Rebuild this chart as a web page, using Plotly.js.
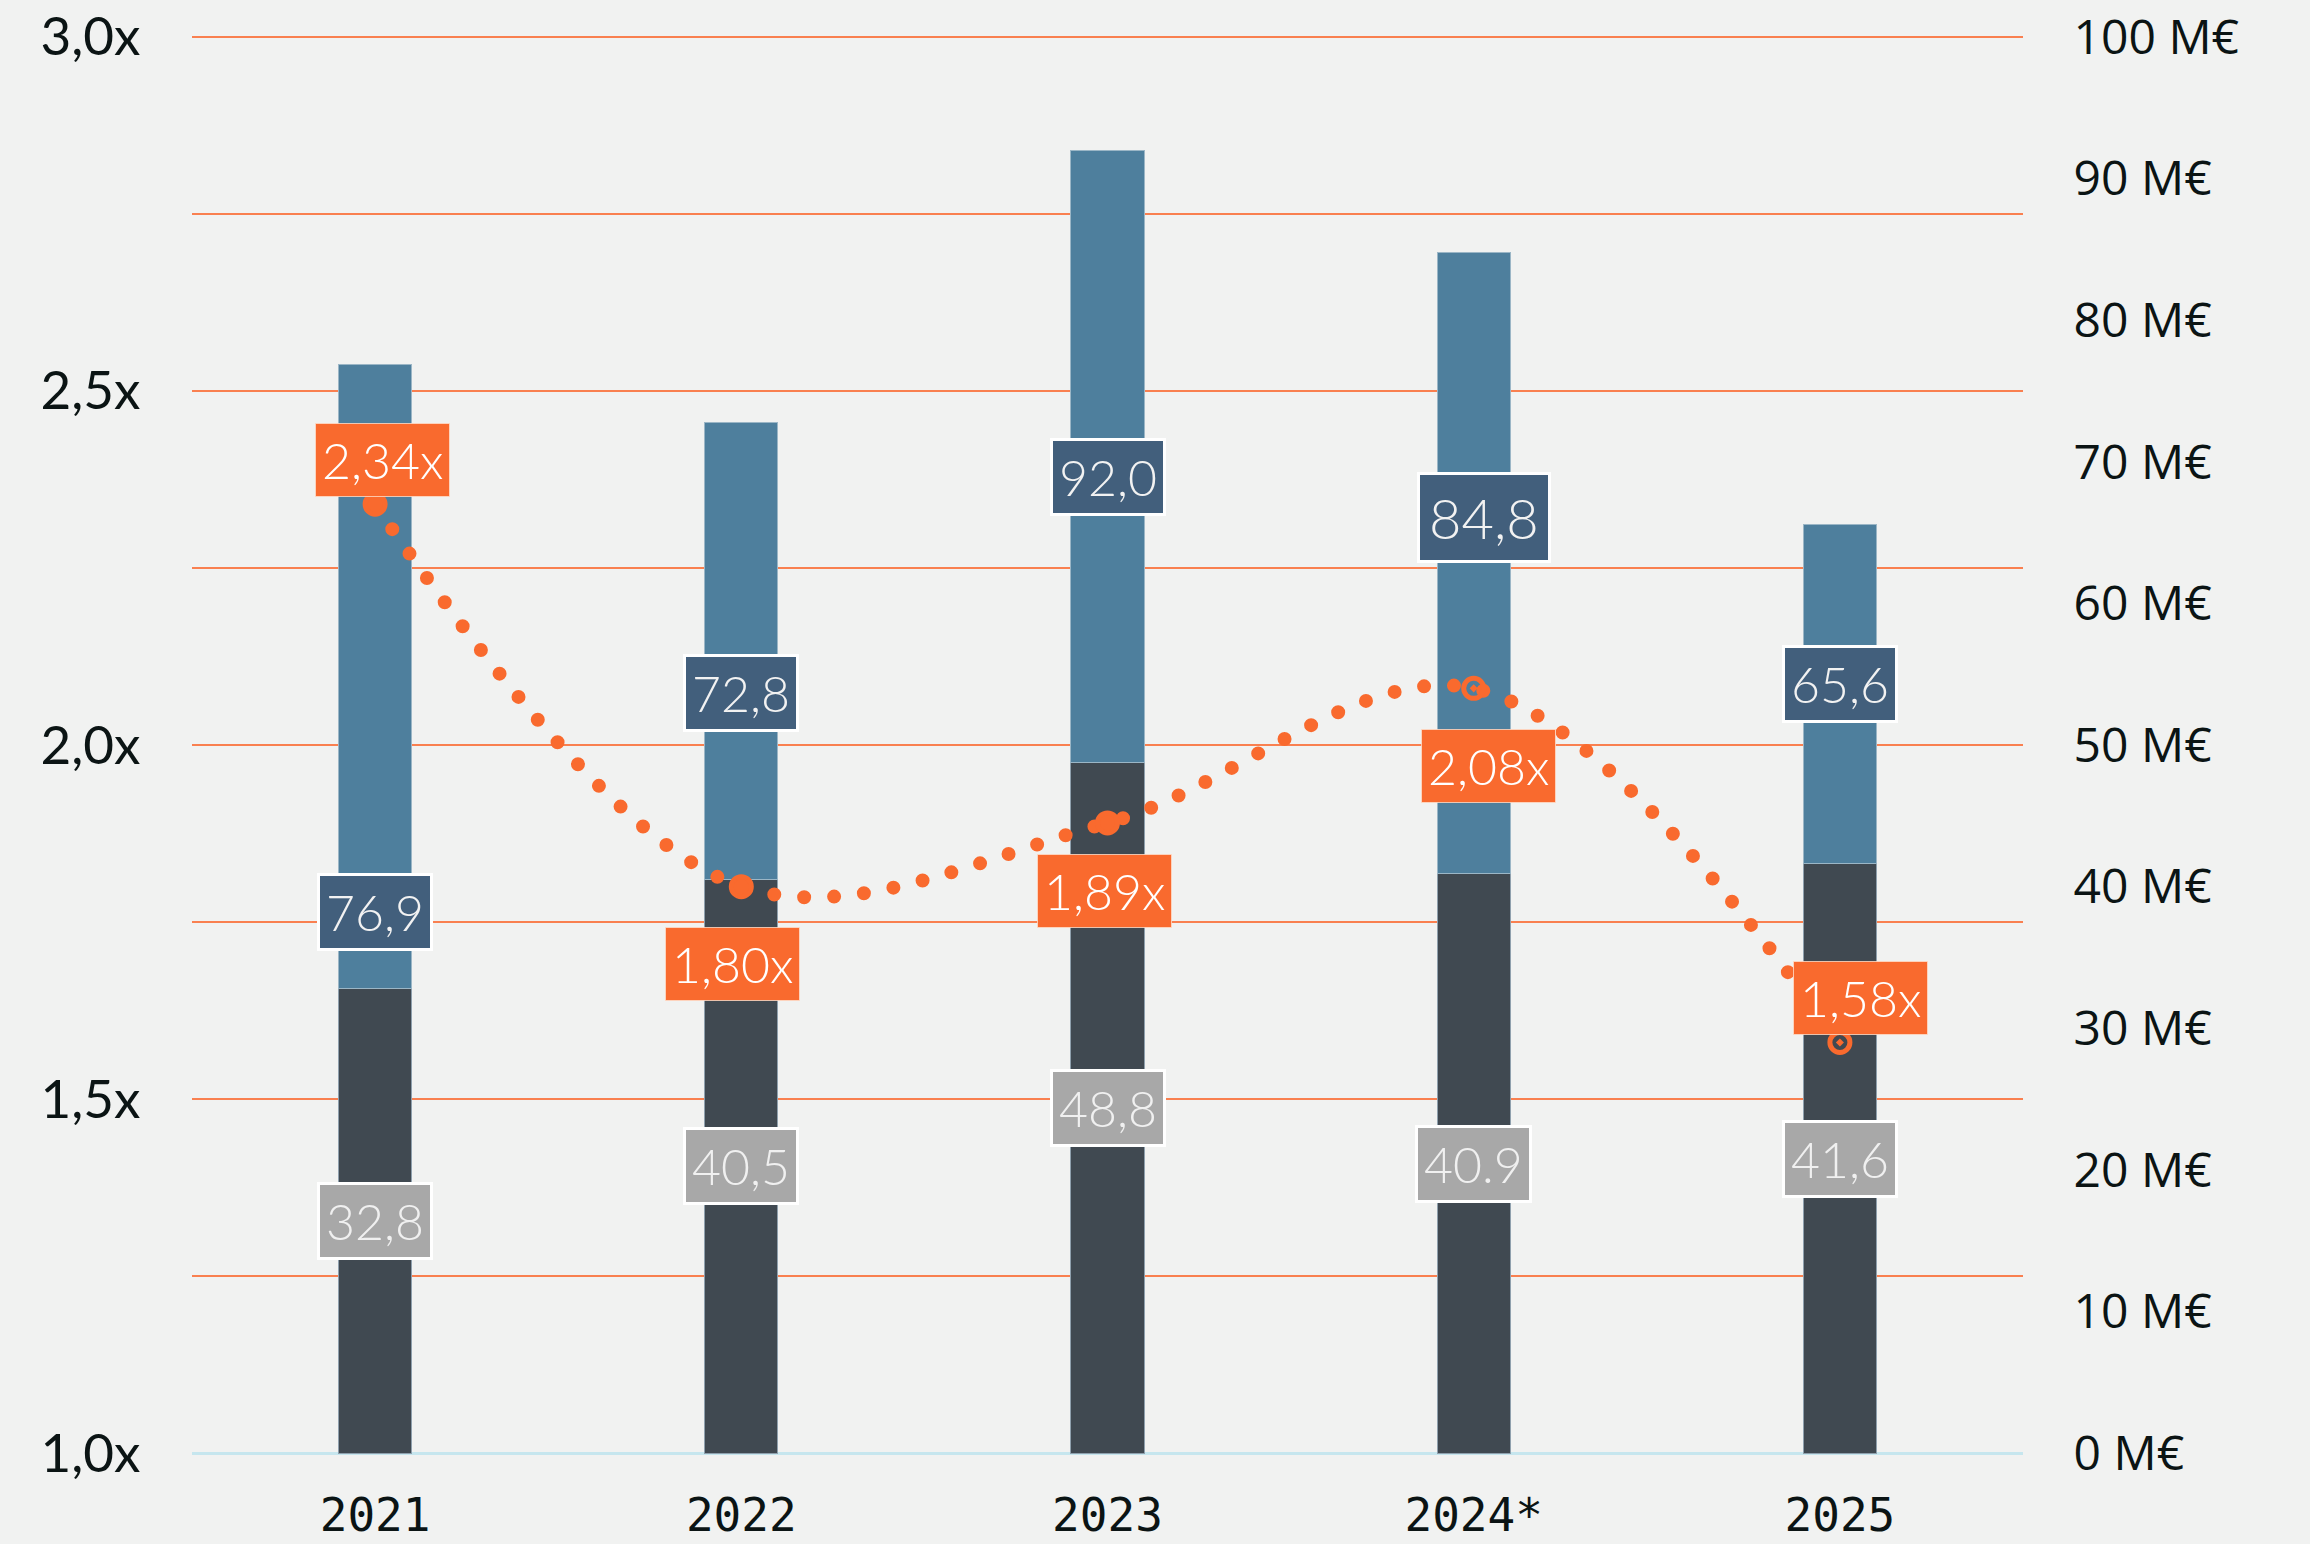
<!DOCTYPE html>
<html>
<head>
<meta charset="utf-8">
<script src="https://cdn.plot.ly/plotly-3.0.1.min.js"></script>
<style>
  html, body { margin: 0; padding: 0; background: #f1f2f1; }
  #chart { width: 2310px; height: 1544px; }
  .scatterlayer .js-line { stroke-linecap: round !important; }
</style>
</head>
<body>
<div id="chart"></div>
<script>
// ---- data ----
const years = ['2021', '2022', '2023', '2024*', '2025'];
const baseValues = [32.8, 40.5, 48.8, 40.9, 41.6];      // dark segment (M€)
const totalValues = [76.9, 72.8, 92.0, 84.8, 65.6];     // full bar height (M€)
const multiples = [2.34, 1.80, 1.89, 2.08, 1.58];       // x multiple (left axis)
const baseLabels = ['32,8', '40,5', '48,8', '40.9', '41,6'];
const totalLabels = ['76,9', '72,8', '92,0', '84,8', '65,6'];
const multipleLabels = ['2,34x', '1,80x', '1,89x', '2,08x', '1,58x'];
const leftTickVals = [1, 1.25, 1.5, 1.75, 2, 2.25, 2.5, 2.75, 3];
const leftTickText = ['1,0x', '', '1,5x', '', '2,0x', '', '2,5x', '', '3,0x'];
const rightTickVals = [0, 10, 20, 30, 40, 50, 60, 70, 80, 90, 100];
const rightTickText = ['0 M€', '10 M€', '20 M€', '30 M€', '40 M€', '50 M€', '60 M€', '70 M€', '80 M€', '90 M€', '100 M€'];

// ---- styling (label offsets in px) ----
const multXShift = [7, -9, -3, 15, 21];
const multYShift = [44, -77, -68, -78, 44];
const totalXShift = [0, 0, 0, 10, 0];
const totalYShift = [-236, -42, -21, 46, 10];
const totalFontSize = [50, 50, 50, 56, 50];
const totalPad = [6, 6, 6, 9, 6];
const markerSymbols = ['circle', 'circle', 'circle', 'circle-open-dot', 'circle-open-dot'];

const topSegment = totalValues.map((t, i) => +(t - baseValues[i]).toFixed(1));
const catIndex = years.map((_, i) => i);

const ORANGE = '#f96a2e';
const labelFont = 'Lato, "Noto Sans", sans-serif';

const traces = [
  {
    type: 'bar', x: years, y: baseValues, yaxis: 'y', width: 0.2,
    marker: { color: '#404951', line: { color: '#8fa0ad', width: 1 } },
    hoverinfo: 'skip', showlegend: false
  },
  {
    type: 'bar', x: years, y: topSegment, yaxis: 'y', width: 0.2,
    marker: { color: '#4e7f9d', line: { color: '#9bb6c6', width: 1 } },
    hoverinfo: 'skip', showlegend: false
  },
  {
    type: 'scatter', mode: 'lines+markers', x: years, y: multiples, yaxis: 'y2',
    line: { color: ORANGE, width: 14, shape: 'spline', smoothing: 1, dash: '0px,30px' },
    marker: { color: ORANGE, size: 20, symbol: markerSymbols, line: { color: ORANGE, width: 5 } },
    hoverinfo: 'skip', showlegend: false
  }
];

const annotations = [];
catIndex.forEach((ci, i) => {
  annotations.push({
    x: ci, xref: 'x', y: baseValues[i] / 2, yref: 'y',
    text: baseLabels[i], showarrow: false,
    font: { family: labelFont, size: 50, color: '#f0f0f0', weight: 300 },
    bgcolor: '#a8a8a8', bordercolor: '#ffffff', borderwidth: 3, borderpad: 6
  });
  annotations.push({
    x: ci, xref: 'x', y: (baseValues[i] + totalValues[i]) / 2, yref: 'y',
    text: totalLabels[i], showarrow: false,
    xshift: totalXShift[i], yshift: totalYShift[i],
    font: { family: labelFont, size: totalFontSize[i], color: '#f2f2f2', weight: 300 },
    bgcolor: '#425f7c', bordercolor: '#ffffff', borderwidth: 3, borderpad: totalPad[i]
  });
  annotations.push({
    x: ci, xref: 'x', y: multiples[i], yref: 'y2',
    text: multipleLabels[i], showarrow: false,
    xshift: multXShift[i], yshift: multYShift[i],
    font: { family: labelFont, size: 50, color: '#ffffff', weight: 300 },
    bgcolor: ORANGE, bordercolor: 'rgba(255,220,200,0.8)', borderwidth: 1, borderpad: 6
  });
});

const layout = {
  width: 2310, height: 1544,
  paper_bgcolor: '#f1f2f1', plot_bgcolor: '#f1f2f1',
  margin: { l: 192, r: 287, t: 34, b: 88 },
  barmode: 'stack',
  showlegend: false,
  xaxis: {
    type: 'category', range: [-0.5, 4.5],
    showgrid: false, zeroline: false, showline: false,
    ticks: 'outside', ticklen: 19, tickcolor: 'rgba(0,0,0,0)',
    tickfont: { family: '"DejaVu Sans Mono", monospace', size: 46, color: '#0b1414' }
  },
  yaxis: {
    side: 'right', range: [-0.2, 100.2],
    tickvals: rightTickVals, ticktext: rightTickText,
    showgrid: false, zeroline: true, zerolinecolor: '#c6e6ee', zerolinewidth: 3,
    showline: false,
    ticks: 'outside', ticklen: 40, tickcolor: 'rgba(0,0,0,0)',
    tickfont: { family: '"Open Sans", sans-serif', size: 48, color: '#0b1414' }
  },
  yaxis2: {
    overlaying: 'y', side: 'left', range: [0.996, 3.004],
    tickvals: leftTickVals, ticktext: leftTickText,
    showgrid: true, gridcolor: '#f98050', gridwidth: 2,
    zeroline: false, showline: false,
    ticks: 'outside', ticklen: 40, tickcolor: 'rgba(0,0,0,0)',
    tickfont: { family: labelFont, size: 53, color: '#0b1414', weight: 400 }
  },
  annotations: annotations
};

Plotly.newPlot('chart', traces, layout, { staticPlot: true, displayModeBar: false });
</script>
</body>
</html>
